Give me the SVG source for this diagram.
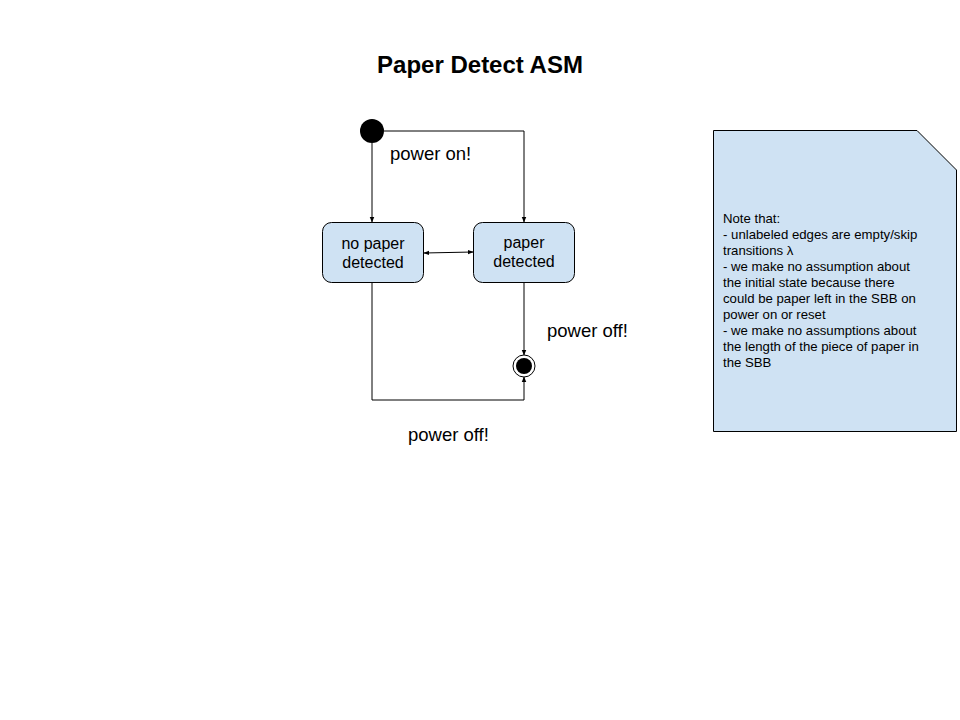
<svg xmlns="http://www.w3.org/2000/svg" width="960" height="720" viewBox="0 0 960 720">
<style>
.t{font-family:"Liberation Sans",Arial,sans-serif;fill:#000}
.st{fill:#cfe2f3;stroke:#000;stroke-width:1}
.c{fill:none;stroke:#000;stroke-width:1}
</style>
<defs>
<marker id="ah" viewBox="0 0 10 10" refX="9" refY="5" markerWidth="6" markerHeight="6" orient="auto-start-reverse">
<path d="M0,1 L10,5 L0,9 z" fill="#000"/>
</marker>
</defs>
<rect width="960" height="720" fill="#fff"/>
<text class="t" x="480" y="73" font-size="24" font-weight="bold" text-anchor="middle">Paper Detect ASM</text>
<g id="connectors">
<path class="c" d="M372,143 V222" marker-end="url(#ah)"/>
<path class="c" d="M384,131 H524 V222" marker-end="url(#ah)"/>
<path class="c" d="M424,253 L473,252" marker-start="url(#ah)" marker-end="url(#ah)"/>
<path class="c" d="M524,282 V355" marker-end="url(#ah)"/>
<path class="c" d="M372,282 V400 H524 V377" marker-end="url(#ah)"/>
</g>
<g id="start"><circle cx="372" cy="131" r="12" fill="#000"/></g>
<g id="no-paper">
<rect class="st" x="322.5" y="222.5" width="101" height="60" rx="9"/>
<text class="t" x="373" y="249" font-size="16" text-anchor="middle">no paper</text>
<text class="t" x="373" y="268" font-size="16" text-anchor="middle">detected</text>
</g>
<g id="paper">
<rect class="st" x="473.5" y="222.5" width="101" height="60" rx="9"/>
<text class="t" x="524" y="248" font-size="16" text-anchor="middle">paper</text>
<text class="t" x="524" y="267" font-size="16" text-anchor="middle">detected</text>
</g>
<g id="end">
<circle cx="524" cy="366" r="11" fill="#fff" stroke="#000" stroke-width="1"/>
<circle cx="524" cy="366" r="8" fill="#000"/>
</g>
<g id="labels">
<text class="t" x="390" y="160" font-size="18.5">power on!</text>
<text class="t" x="547" y="337" font-size="18.5">power off!</text>
<text class="t" x="408" y="441" font-size="18.5">power off!</text>
</g>
<g id="note">
<path class="st" d="M713.5,130.5 H917 L956.5,170 V431.5 H713.5 Z"/>
<text class="t" font-size="13.2">
<tspan x="723" y="223">Note that:</tspan>
<tspan x="723" y="239">- unlabeled edges are empty/skip</tspan>
<tspan x="723" y="255">transitions λ</tspan>
<tspan x="723" y="271">- we make no assumption about</tspan>
<tspan x="723" y="287">the initial state because there</tspan>
<tspan x="723" y="303">could be paper left in the SBB on</tspan>
<tspan x="723" y="319">power on or reset</tspan>
<tspan x="723" y="335">- we make no assumptions about</tspan>
<tspan x="723" y="351">the length of the piece of paper in</tspan>
<tspan x="723" y="367">the SBB</tspan>
</text>
</g>
</svg>
